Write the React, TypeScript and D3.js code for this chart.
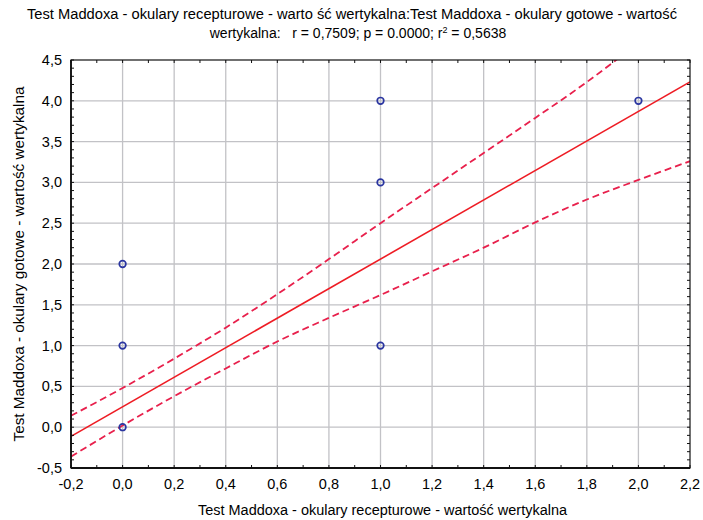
import * as d3 from "d3";

const pointX = [0, 0, 0, 1, 1, 1, 2];
const pointY = [0, 1, 2, 1, 3, 4, 4];

const fitIntercept = 0.25;
const fitSlope = 1.81;

const bandX = [-0.2, 0, 0.2, 0.4, 0.6, 0.8, 1.0, 1.2, 1.4, 1.6, 1.8, 2.0, 2.2];
const bandUpper = [0.14, 0.48, 0.84, 1.22, 1.63, 2.06, 2.5, 2.93, 3.36, 3.79, 4.23, 4.71, 5.2];
const bandLower = [-0.36, 0.02, 0.38, 0.72, 1.05, 1.34, 1.62, 1.91, 2.2, 2.51, 2.79, 3.03, 3.26];

const xTicks = [-0.2, 0, 0.2, 0.4, 0.6, 0.8, 1.0, 1.2, 1.4, 1.6, 1.8, 2.0, 2.2];
const yTicks = [-0.5, 0, 0.5, 1.0, 1.5, 2.0, 2.5, 3.0, 3.5, 4.0, 4.5];

const titleLine1 =
  "Test Maddoxa - okulary recepturowe - warto ść wertykalna:Test Maddoxa - okulary gotowe - wartość";
const xTitle = "Test Maddoxa - okulary recepturowe - wartość wertykalna";
const yTitle = "Test Maddoxa - okulary gotowe - wartość wertykalna";

const W = 703;
const H = 520;
const margin = { top: 60, right: 13, bottom: 52, left: 71 };
const FONT = "'Liberation Sans', Arial, sans-serif";
const INK = "#000";

const fmt = (v: number) => d3.format(".1f")(v).replace("−", "-").replace(".", ",");

export default function App() {
  const x = d3.scaleLinear().domain([-0.2, 2.2]).range([margin.left, W - margin.right]);
  const y = d3.scaleLinear().domain([-0.5, 4.5]).range([H - margin.bottom, margin.top]);
  const [x0, x1] = x.range();
  const [y0, y1] = y.range();

  const minorX = d3.range(-0.2, 2.2001, 0.1);
  const minorY = d3.range(-0.5, 4.5001, 0.1);

  const bandLine = d3
    .line<number>()
    .x((_, i) => x(bandX[i]))
    .y((d) => y(d))
    .curve(d3.curveMonotoneX);

  const fitDomain = x.domain();

  return (
    <svg
      width={W}
      height={H}
      viewBox={`0 0 ${W} ${H}`}
      style={{ position: "absolute", left: 0, top: 0, background: "#fff" }}
      fontFamily={FONT}
    >
      <defs>
        <clipPath id="plot">
          <rect x={x0} y={y1} width={x1 - x0} height={y0 - y1} />
        </clipPath>
      </defs>

      {/* title */}
      <text x={352} y={19} fontSize={14} textAnchor="middle" fill={INK} textLength={650} lengthAdjust="spacingAndGlyphs">
        {titleLine1}
      </text>
      <text x={358} y={38} fontSize={14} textAnchor="middle" fill={INK} xmlSpace="preserve">
        {"wertykalna:   r = 0,7509; p = 0.0000; r"}
        <tspan dy={-5} fontSize={9}>2</tspan>
        <tspan dy={5}>{" = 0,5638"}</tspan>
      </text>

      {/* grid */}
      {xTicks.slice(1, -1).map((t) => (
        <line key={`gx${t}`} x1={x(t)} x2={x(t)} y1={y0} y2={y1} stroke="#c2c2c6" strokeWidth={1.3} />
      ))}
      {yTicks.slice(1, -1).map((t) => (
        <line key={`gy${t}`} x1={x0} x2={x1} y1={y(t)} y2={y(t)} stroke="#c2c2c6" strokeWidth={1.3} />
      ))}

      {/* confidence band and fit */}
      <g clipPath="url(#plot)">
        <path d={bandLine(bandUpper) ?? ""} fill="none" stroke="#e8204c" strokeWidth={1.8} strokeDasharray="7,4" />
        <path d={bandLine(bandLower) ?? ""} fill="none" stroke="#e8204c" strokeWidth={1.8} strokeDasharray="7,4" />
        <line
          x1={x(fitDomain[0])}
          y1={y(fitIntercept + fitSlope * fitDomain[0])}
          x2={x(fitDomain[1])}
          y2={y(fitIntercept + fitSlope * fitDomain[1])}
          stroke="#ee1c24"
          strokeWidth={1.6}
        />
      </g>

      {/* points */}
      {pointX.map((px, i) => (
        <circle key={i} cx={x(px)} cy={y(pointY[i])} r={3.3} fill="none" stroke="#2a35a0" strokeWidth={1.7} />
      ))}

      {/* frame */}
      <rect x={x0} y={y1} width={x1 - x0} height={y0 - y1} fill="none" stroke="#111" strokeWidth={1.2} />
      <line x1={x0} x2={x0} y1={y0} y2={y1} stroke="#111" strokeWidth={1.8} />
      <line x1={x0} x2={x1} y1={y0} y2={y0} stroke="#111" strokeWidth={1.8} />

      {/* minor ticks */}
      {minorX.map((t, i) => (
        <g key={`mx${i}`}>
          <line x1={x(t)} x2={x(t)} y1={y0} y2={y0 - 3} stroke="#111" />
          <line x1={x(t)} x2={x(t)} y1={y1} y2={y1 + 3} stroke="#111" />
        </g>
      ))}
      {minorY.map((t, i) => (
        <g key={`my${i}`}>
          <line x1={x0} x2={x0 + 3} y1={y(t)} y2={y(t)} stroke="#111" />
          <line x1={x1} x2={x1 - 3} y1={y(t)} y2={y(t)} stroke="#111" />
        </g>
      ))}

      {/* tick labels */}
      {xTicks.map((t) => (
        <text key={`tx${t}`} x={x(t)} y={489} fontSize={14.5} textAnchor="middle" fill={INK}>
          {fmt(t)}
        </text>
      ))}
      {yTicks.map((t) => (
        <text key={`ty${t}`} x={62} y={y(t)} dy={5} fontSize={14.5} textAnchor="end" fill={INK}>
          {fmt(t)}
        </text>
      ))}

      {/* axis titles */}
      <text x={(x0 + x1) / 2 + 2} y={515} fontSize={14} textAnchor="middle" fill={INK} textLength={369} lengthAdjust="spacingAndGlyphs">
        {xTitle}
      </text>
      <text
        transform={`translate(24,${(y0 + y1) / 2}) rotate(-90)`}
        fontSize={14}
        textAnchor="middle"
        fill={INK}
        textLength={355}
        lengthAdjust="spacingAndGlyphs"
      >
        {yTitle}
      </text>
    </svg>
  );
}
